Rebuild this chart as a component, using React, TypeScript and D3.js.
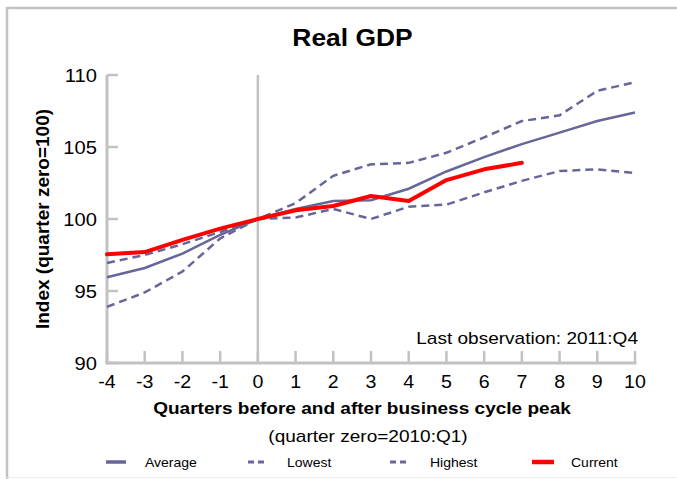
import React from "react";
import * as d3 from "d3";

const quarters = [-4, -3, -2, -1, 0, 1, 2, 3, 4, 5, 6, 7, 8, 9, 10];
const average = [95.95, 96.6, 97.6, 98.9, 100, 100.7, 101.25, 101.3, 102.1, 103.3, 104.3, 105.2, 106.0, 106.8, 107.4];
const lowest = [96.95, 97.5, 98.25, 99.1, 100, 100.1, 100.7, 100.0, 100.85, 101.0, 101.85, 102.65, 103.33, 103.45, 103.2];
const highest = [93.9, 94.9, 96.35, 98.65, 100, 101.1, 103.0, 103.8, 103.9, 104.6, 105.67, 106.8, 107.2, 108.9, 109.5];
const currentQuarters = [-4, -3, -2, -1, 0, 1, 2, 3, 4, 5, 6, 7];
const current = [97.55, 97.7, 98.55, 99.33, 100, 100.6, 100.9, 101.6, 101.25, 102.7, 103.45, 103.9];
const yTicks = [90, 95, 100, 105, 110];
const xTicks = [-4, -3, -2, -1, 0, 1, 2, 3, 4, 5, 6, 7, 8, 9, 10];
const legendItems = ["Average", "Lowest", "Highest", "Current"];

const FONT = "'Liberation Sans', Arial, sans-serif";
const SLATE = "#66669a";
const AXIS = "#c2c2c2";

function T({ x, y, anchor = "start", size, weight = "normal", sx = 1.12, children }: any) {
  return (
    <text
      transform={`translate(${x},${y}) scale(${sx},1)`}
      textAnchor={anchor}
      fontSize={size}
      fontWeight={weight}
      fontFamily={FONT}
      fill="#000"
    >
      {children}
    </text>
  );
}

export default function App() {
  const x = d3.scaleLinear().domain([-4, 10]).range([107, 635]);
  const y = d3.scaleLinear().domain([90, 110]).range([363, 75]);
  const line = d3
    .line<[number, number]>()
    .x((d) => x(d[0]))
    .y((d) => y(d[1]));
  const pts = (xs: number[], vs: number[]) => xs.map((q, i) => [q, vs[i]] as [number, number]);

  const legendX = [106, 248, 390, 532];
  const legendTextX = [145, 287, 430, 571];
  const legendStyles = [
    { stroke: SLATE, width: 3.5, dash: undefined, len: 20 },
    { stroke: SLATE, width: 3, dash: "6,4", len: 17 },
    { stroke: SLATE, width: 3, dash: "6,4", len: 17 },
    { stroke: "#ff0000", width: 4.5, dash: undefined, len: 22 },
  ];

  return (
    <svg
      width={677}
      height={479}
      style={{ position: "absolute", left: 0, top: 0, background: "#fff" }}
    >
      <rect x={0} y={0} width={677} height={479} fill="#fff" />
      {/* frame */}
      <line x1={7} y1={8} x2={677} y2={8} stroke={AXIS} strokeWidth={2.5} />
      <line x1={7} y1={7} x2={7} y2={479} stroke={AXIS} strokeWidth={2.5} />
      <line x1={7} y1={477.5} x2={677} y2={477.5} stroke="#ececec" strokeWidth={1} />

      <T x={352.5} y={46} anchor="middle" size={24} weight="bold" sx={1.1}>
        Real GDP
      </T>

      {/* zero line */}
      <line x1={x(0)} y1={y(110)} x2={x(0)} y2={y(90)} stroke={AXIS} strokeWidth={2.5} />

      {/* axes */}
      <line x1={x(-4)} y1={y(110)} x2={x(-4)} y2={y(90) + 1.2} stroke={AXIS} strokeWidth={3} />
      <line x1={x(-4) - 1.5} y1={y(90)} x2={x(10) + 1.5} y2={y(90)} stroke={AXIS} strokeWidth={3} />
      {yTicks.map((t) => (
        <g key={"y" + t}>
          <line x1={x(-4)} y1={y(t)} x2={x(-4) + 11} y2={y(t)} stroke={AXIS} strokeWidth={2.5} />
          <T x={97} y={y(t) + 6.5} anchor="end" size={18}>
            {t}
          </T>
        </g>
      ))}
      {xTicks.map((t) => (
        <g key={"x" + t}>
          <line x1={x(t)} y1={y(90)} x2={x(t)} y2={y(90) - 12} stroke={AXIS} strokeWidth={2.5} />
          <T x={x(t)} y={388} anchor="middle" size={17.5}>
            {t}
          </T>
        </g>
      ))}

      {/* series */}
      <path d={line(pts(quarters, lowest)) || ""} fill="none" stroke={SLATE} strokeWidth={2.5} strokeDasharray="8,5" />
      <path d={line(pts(quarters, highest)) || ""} fill="none" stroke={SLATE} strokeWidth={2.5} strokeDasharray="8,5" />
      <path d={line(pts(quarters, average)) || ""} fill="none" stroke={SLATE} strokeWidth={2.5} />
      <path
        d={line(pts(currentQuarters, current)) || ""}
        fill="none"
        stroke="#ff0000"
        strokeWidth={4}
        strokeLinejoin="round"
        strokeLinecap="round"
      />

      <T x={638} y={344} anchor="end" size={17}>
        Last observation: 2011:Q4
      </T>

      {/* axis titles */}
      <T x={362} y={414} anchor="middle" size={17} weight="bold">
        Quarters before and after business cycle peak
      </T>
      <T x={368} y={442} anchor="middle" size={17}>
        (quarter zero=2010:Q1)
      </T>
      <text
        transform={`translate(49,219) rotate(-90)`}
        textAnchor="middle"
        fontSize={19}
        fontWeight="bold"
        fontFamily={FONT}
      >
        Index (quarter zero=100)
      </text>

      {/* legend */}
      {legendItems.map((name, i) => {
        const s = legendStyles[i];
        return (
          <g key={name}>
            <line
              x1={legendX[i]}
              y1={462}
              x2={legendX[i] + s.len}
              y2={462}
              stroke={s.stroke}
              strokeWidth={s.width}
              strokeDasharray={s.dash}
            />
            <T x={legendTextX[i]} y={467} size={12.5}>
              {name}
            </T>
          </g>
        );
      })}
    </svg>
  );
}
